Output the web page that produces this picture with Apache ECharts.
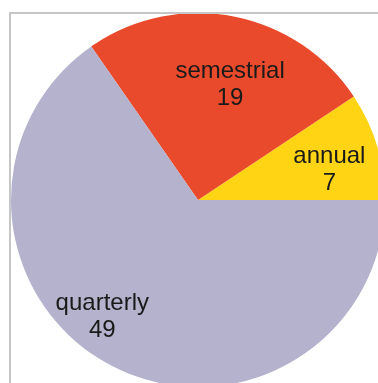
<!DOCTYPE html>
<html>
<head>
<meta charset="utf-8">
<script src="https://cdn.jsdelivr.net/npm/echarts@6/dist/echarts.min.js"></script>
<style>
  html, body { margin: 0; padding: 0; background: #fff; }
  #chart { width: 378px; height: 383px; }
</style>
</head>
<body>
<div id="chart"></div>
<script>
// Reporting frequency counts
const categories = ['annual', 'semestrial', 'quarterly'];
const counts = [7, 19, 49];
const colors = ['#FFD414', '#E84A2B', '#B4B2CC'];

// Nudges that move each inside label away from the slice midpoint
const labelShift = {
  annual: [39, -2],
  semestrial: [14, -20],
  quarterly: [-51, 31]
};

const chart = echarts.init(document.getElementById('chart'), null, { renderer: 'canvas' });

chart.setOption({
  animation: false,
  backgroundColor: '#ffffff',
  graphic: [{
    type: 'rect',
    shape: { x: 10, y: 13, width: 400, height: 400 },
    style: { fill: 'none', stroke: '#c6c6c6', lineWidth: 2 },
    z: 10
  }],
  series: [{
    type: 'pie',
    center: [198, 200],
    radius: 187,
    startAngle: 0,
    clockwise: false,
    avoidLabelOverlap: false,
    labelLine: { show: false },
    label: {
      show: true,
      position: 'inside',
      formatter: '{b}\n{c}',
      fontFamily: 'Liberation Sans, Arial, sans-serif',
      fontSize: 24,
      lineHeight: 27,
      color: '#1a1a1a'
    },
    labelLayout: function (params) {
      const name = categories[params.dataIndex];
      const s = labelShift[name] || [0, 0];
      return { dx: s[0], dy: s[1] };
    },
    itemStyle: { borderWidth: 0 },
    emphasis: { disabled: true },
    data: categories.map((c, i) => ({
      name: c,
      value: counts[i],
      itemStyle: { color: colors[i] }
    }))
  }]
});
</script>
</body>
</html>
